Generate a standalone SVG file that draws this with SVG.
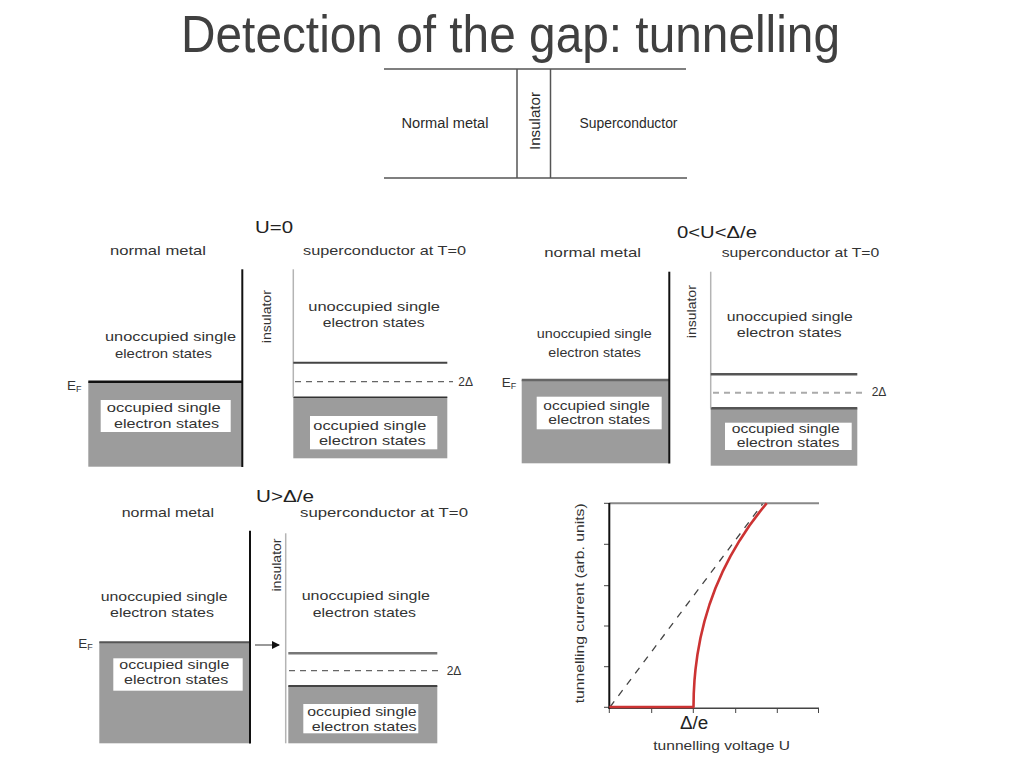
<svg xmlns="http://www.w3.org/2000/svg" width="1024" height="768" viewBox="0 0 1024 768">
<defs>
<style>
text{font-family:"Liberation Sans",Arial,sans-serif;fill:#2a2a2a}
.t{font-size:14px}
.sm{font-size:13.5px;fill:#333}
.u{font-size:17px;fill:#222}
.d{font-size:12px;fill:#333}
.gray{fill:#9c9c9c}
.wb{fill:#fff}
.nm{stroke:#111;stroke-width:2;fill:none}
.sc{stroke:#b4b4b4;stroke-width:1.5;fill:none}
.gap{stroke:#444;stroke-width:2;fill:none}
.dash{stroke:#666;stroke-width:1.2;stroke-dasharray:6 5;fill:none}
.frame{stroke:#555;stroke-width:1.5;fill:none}
</style>
<marker id="ah" markerWidth="8" markerHeight="8" refX="7" refY="4" orient="auto" markerUnits="userSpaceOnUse">
<path d="M0,0 L8,4 L0,8 Z" fill="#111"/>
</marker>
</defs>
<rect width="1024" height="768" fill="#fff"/>
<text x="181" y="52" font-size="52" textLength="659" lengthAdjust="spacingAndGlyphs" style="fill:#404040">Detection of the gap: tunnelling</text>

<g id="junction">
<line class="frame" x1="384" y1="69" x2="686" y2="69"/>
<line class="frame" x1="384" y1="178" x2="687" y2="178"/>
<line class="frame" x1="517" y1="69" x2="517" y2="178"/>
<line class="frame" x1="550.5" y1="69" x2="550.5" y2="178"/>
<text class="t" x="445" y="128" text-anchor="middle" textLength="87" lengthAdjust="spacingAndGlyphs">Normal metal</text>
<text class="t" x="628.5" y="128" text-anchor="middle" textLength="98" lengthAdjust="spacingAndGlyphs">Superconductor</text>
<text class="t" transform="translate(539.5,121) rotate(-90)" text-anchor="middle" textLength="58" lengthAdjust="spacingAndGlyphs">Insulator</text>
</g>

<g id="panel-u0">
<text class="u" x="255" y="233" textLength="38" lengthAdjust="spacingAndGlyphs">U=0</text>
<text class="sm" x="110" y="255" textLength="96" lengthAdjust="spacingAndGlyphs">normal metal</text>
<text class="sm" x="303" y="255" textLength="163" lengthAdjust="spacingAndGlyphs">superconductor at T=0</text>
<rect class="gray" x="88.3" y="381.7" width="154" height="85"/>
<line x1="88.3" y1="381.7" x2="242.3" y2="381.7" stroke="#111" stroke-width="2.5"/>
<line class="nm" x1="242.3" y1="269.3" x2="242.3" y2="467"/>
<text class="sm" x="105" y="341" textLength="131" lengthAdjust="spacingAndGlyphs">unoccupied single</text>
<text class="sm" x="115" y="358" textLength="97" lengthAdjust="spacingAndGlyphs">electron states</text>
<rect class="wb" x="100.7" y="400" width="130" height="32"/>
<text class="sm" x="106.7" y="412.3" textLength="114" lengthAdjust="spacingAndGlyphs">occupied single</text>
<text class="sm" x="114" y="428.3" textLength="105" lengthAdjust="spacingAndGlyphs">electron states</text>
<text class="sm" x="67" y="390">E<tspan font-size="9" dy="2">F</tspan></text>
<text class="sm" transform="translate(271,316.7) rotate(-90)" text-anchor="middle" textLength="53" lengthAdjust="spacingAndGlyphs">insulator</text>
<rect class="gray" x="293.3" y="397.3" width="154" height="61"/>
<line x1="293.3" y1="397.3" x2="447.3" y2="397.3" stroke="#333" stroke-width="1.5"/>
<line class="sc" x1="293.3" y1="269.3" x2="293.3" y2="397.3"/>
<line class="gap" x1="293.3" y1="362.7" x2="447.3" y2="362.7"/>
<line class="dash" x1="295" y1="381.7" x2="453" y2="381.7"/>
<text class="d" x="458.3" y="385.7">2Δ</text>
<text class="sm" x="308.3" y="311" textLength="131.7" lengthAdjust="spacingAndGlyphs">unoccupied single</text>
<text class="sm" x="322.7" y="327.3" textLength="102" lengthAdjust="spacingAndGlyphs">electron states</text>
<rect class="wb" x="310" y="416" width="127.3" height="33.3"/>
<text class="sm" x="313.3" y="430" textLength="113" lengthAdjust="spacingAndGlyphs">occupied single</text>
<text class="sm" x="319" y="445" textLength="106.7" lengthAdjust="spacingAndGlyphs">electron states</text>
</g>

<g id="panel-u-small">
<text class="u" x="677" y="238" textLength="80" lengthAdjust="spacingAndGlyphs">0&lt;U&lt;Δ/e</text>
<text class="sm" x="544.3" y="257.3" textLength="96.7" lengthAdjust="spacingAndGlyphs">normal metal</text>
<text class="sm" x="721.7" y="257.3" textLength="157.6" lengthAdjust="spacingAndGlyphs">superconductor at T=0</text>
<rect class="gray" x="521.7" y="380" width="147.6" height="83.3"/>
<line x1="521.7" y1="380" x2="669.3" y2="380" stroke="#666" stroke-width="2.5"/>
<line class="nm" x1="669.3" y1="271.7" x2="669.3" y2="463.5"/>
<text class="sm" x="536.7" y="338.3" textLength="115" lengthAdjust="spacingAndGlyphs">unoccupied single</text>
<text class="sm" x="548.3" y="356.7" textLength="92.7" lengthAdjust="spacingAndGlyphs">electron states</text>
<rect class="wb" x="536.7" y="396.7" width="125" height="32.6"/>
<text class="sm" x="543.3" y="410" textLength="106.7" lengthAdjust="spacingAndGlyphs">occupied single</text>
<text class="sm" x="548.3" y="424" textLength="101.7" lengthAdjust="spacingAndGlyphs">electron states</text>
<text class="sm" x="501.7" y="386.7">E<tspan font-size="9" dy="2">F</tspan></text>
<text class="sm" transform="translate(696,311.7) rotate(-90)" text-anchor="middle" textLength="53" lengthAdjust="spacingAndGlyphs">insulator</text>
<rect class="gray" x="710.7" y="408.3" width="146.6" height="57.4"/>
<line x1="710.7" y1="408.3" x2="857.3" y2="408.3" stroke="#555" stroke-width="2.5"/>
<line class="sc" x1="710.7" y1="271.7" x2="710.7" y2="408.3"/>
<line x1="710.7" y1="374.3" x2="857.3" y2="374.3" stroke="#555" stroke-width="2.5"/>
<line x1="713" y1="392.7" x2="862" y2="392.7" stroke="#aaa" stroke-width="2" stroke-dasharray="6 5"/>
<text class="d" x="871.7" y="396">2Δ</text>
<text class="sm" x="726.7" y="320.7" textLength="126" lengthAdjust="spacingAndGlyphs">unoccupied single</text>
<text class="sm" x="736.7" y="337.3" textLength="105" lengthAdjust="spacingAndGlyphs">electron states</text>
<rect class="wb" x="725" y="422.7" width="126.7" height="27.3"/>
<text class="sm" x="731.7" y="433.3" textLength="108" lengthAdjust="spacingAndGlyphs">occupied single</text>
<text class="sm" x="736.7" y="447.3" textLength="102.7" lengthAdjust="spacingAndGlyphs">electron states</text>
</g>

<g id="panel-u-large">
<text class="u" x="256" y="501.7" textLength="58" lengthAdjust="spacingAndGlyphs">U&gt;Δ/e</text>
<text class="sm" x="121.7" y="516.7" textLength="92.3" lengthAdjust="spacingAndGlyphs">normal metal</text>
<text class="sm" x="300" y="517.3" textLength="168" lengthAdjust="spacingAndGlyphs">superconductor at T=0</text>
<rect class="gray" x="99.3" y="642.3" width="150.7" height="101"/>
<line x1="99.3" y1="642.3" x2="250" y2="642.3" stroke="#555" stroke-width="2"/>
<line class="nm" x1="250" y1="530.7" x2="250" y2="743.5"/>
<text class="sm" x="100.7" y="600.7" textLength="127" lengthAdjust="spacingAndGlyphs">unoccupied single</text>
<text class="sm" x="110" y="617.3" textLength="104" lengthAdjust="spacingAndGlyphs">electron states</text>
<rect class="wb" x="113.3" y="658.3" width="129.4" height="32.4"/>
<text class="sm" x="119.3" y="669.3" textLength="110" lengthAdjust="spacingAndGlyphs">occupied single</text>
<text class="sm" x="124" y="684" textLength="104.3" lengthAdjust="spacingAndGlyphs">electron states</text>
<text class="sm" x="78.3" y="648.3">E<tspan font-size="9" dy="2">F</tspan></text>
<text class="sm" transform="translate(281,565) rotate(-90)" text-anchor="middle" textLength="53" lengthAdjust="spacingAndGlyphs">insulator</text>
<rect class="gray" x="288.3" y="686" width="149" height="57.3"/>
<line x1="288.3" y1="686" x2="437.3" y2="686" stroke="#444" stroke-width="2"/>
<line class="sc" x1="285.7" y1="533.3" x2="285.7" y2="743.3"/>
<line x1="288.3" y1="653.3" x2="437.3" y2="653.3" stroke="#777" stroke-width="2.5"/>
<line class="dash" x1="289" y1="670.7" x2="442" y2="670.7"/>
<text class="d" x="446.7" y="675">2Δ</text>
<text class="sm" x="301.7" y="600" textLength="128.3" lengthAdjust="spacingAndGlyphs">unoccupied single</text>
<text class="sm" x="312.7" y="617.3" textLength="103.3" lengthAdjust="spacingAndGlyphs">electron states</text>
<rect class="wb" x="303.3" y="704" width="115" height="29.3"/>
<text class="sm" x="307.3" y="716" textLength="109.3" lengthAdjust="spacingAndGlyphs">occupied single</text>
<text class="sm" x="311.7" y="730.7" textLength="105" lengthAdjust="spacingAndGlyphs">electron states</text>
</g>

<g id="connectors">
<line x1="255" y1="645" x2="279" y2="645" stroke="#777" stroke-width="1.5" marker-end="url(#ah)"/>
</g>

<g id="iv-graph">
<line x1="609.3" y1="503.3" x2="819" y2="503.3" stroke="#888" stroke-width="2"/>
<line x1="609.3" y1="708.3" x2="819" y2="708.3" stroke="#444" stroke-width="1.5"/>
<g stroke="#444" stroke-width="1">
<line x1="604" y1="503.3" x2="609.3" y2="503.3"/>
<line x1="604" y1="544.3" x2="609.3" y2="544.3"/>
<line x1="604" y1="585.7" x2="609.3" y2="585.7"/>
<line x1="604" y1="626" x2="609.3" y2="626"/>
<line x1="604" y1="666.7" x2="609.3" y2="666.7"/>
<line x1="604" y1="707.3" x2="609.3" y2="707.3"/>
<line x1="609.3" y1="708.3" x2="609.3" y2="713"/>
<line x1="651.7" y1="708.3" x2="651.7" y2="713"/>
<line x1="693.3" y1="708.3" x2="693.3" y2="713"/>
<line x1="735.7" y1="708.3" x2="735.7" y2="713"/>
<line x1="777.3" y1="708.3" x2="777.3" y2="713"/>
<line x1="818.5" y1="708.3" x2="818.5" y2="713"/>
</g>
<line x1="609.3" y1="503" x2="609.3" y2="709" stroke="#111" stroke-width="2"/>
<line x1="610" y1="707" x2="762.5" y2="504" stroke="#444" stroke-width="1.3" stroke-dasharray="7 7"/>
<polyline points="609.3,707 693.5,707 693.75,693.5 694.5,680.2 695.5,669.3 697.5,654.2 700.5,637.8 704.5,621.1 709.5,604.5 715.5,588 722.5,571.9 730.5,556.1 739.5,540.7 749.5,525.5 759.5,512.1 766.7,503.2" fill="none" stroke="#cc3333" stroke-width="2.6" stroke-linejoin="round"/>
<text x="680" y="729.3" font-size="18" textLength="28.3" lengthAdjust="spacingAndGlyphs" style="fill:#222">Δ/e</text>
<text class="sm" x="653.3" y="750" textLength="136.7" lengthAdjust="spacingAndGlyphs">tunnelling voltage U</text>
<text class="sm" transform="translate(584,603.3) rotate(-90)" text-anchor="middle" textLength="200" lengthAdjust="spacingAndGlyphs">tunnelling current (arb. units)</text>
</g>
</svg>
